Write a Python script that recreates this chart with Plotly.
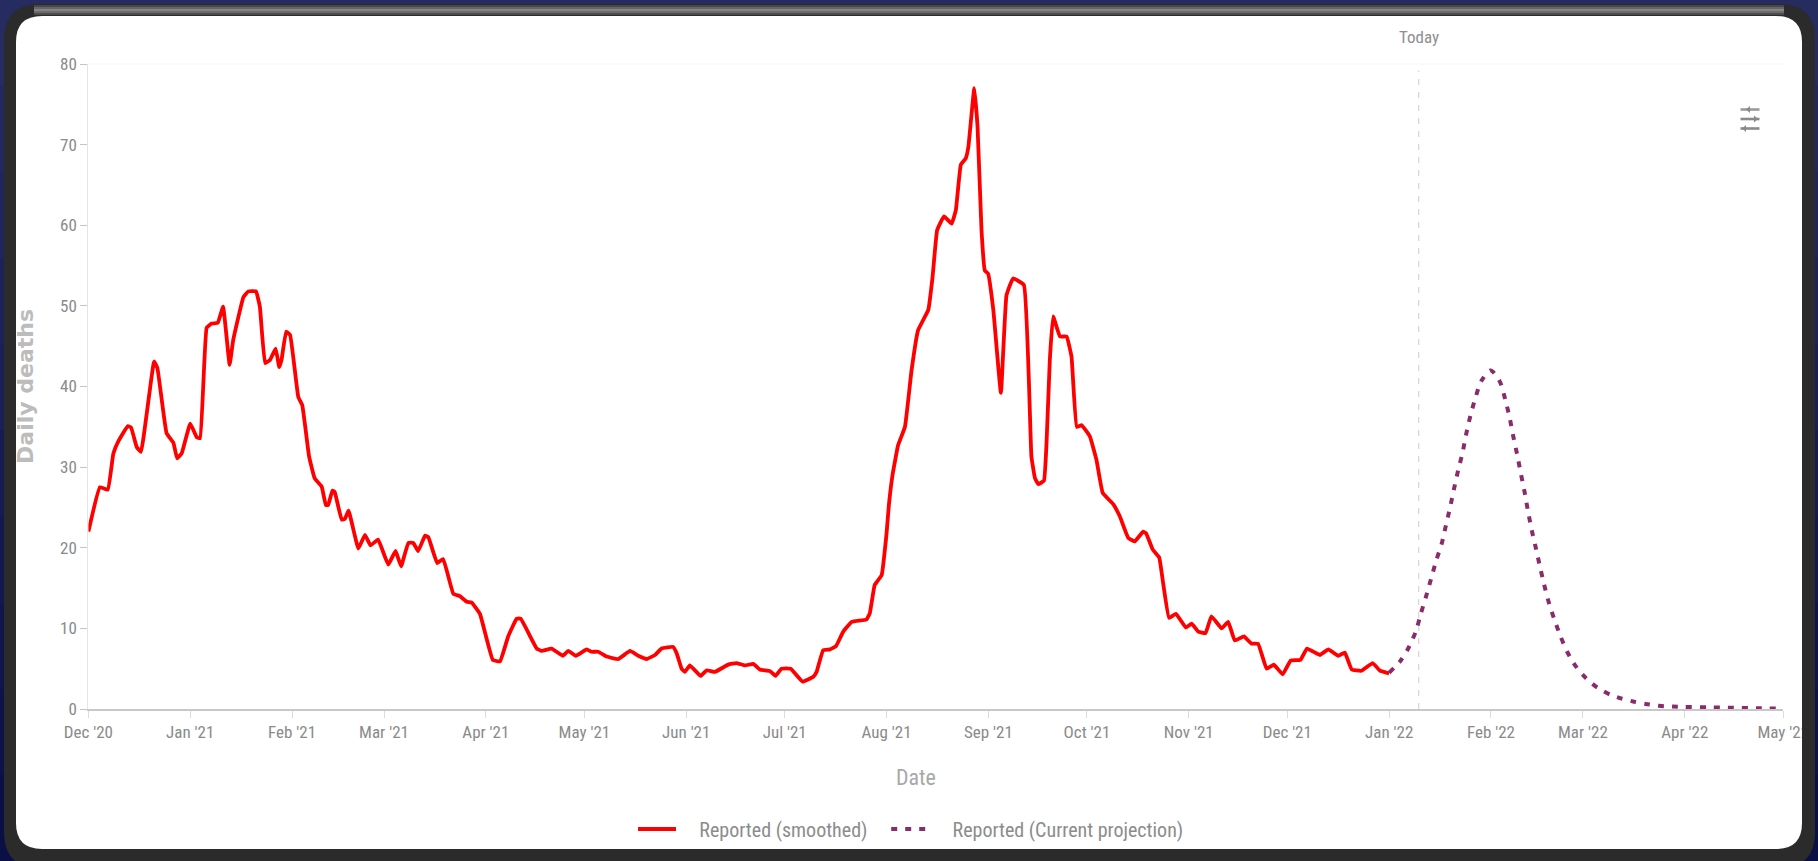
import pandas as pd
import plotly.graph_objects as go

W, H = 1818, 861
START = pd.Timestamp("2020-12-01")

# days after 1 Dec 2020
reported_days = [0,3.5,5.9,7.6,9.1,12,13,14.7,16,20,21,23.8,25.9,27,28.4,31,33,34,36,37.5,39.4,41,43,44.1,47.2,48.7,51,52.2,53.8,55.3,57,58.1,58.8,60.2,61.4,63.9,65.1,67.2,68.9,71,72.3,73,74.3,75,77.1,78.1,79.2,82.2,84.2,85.9,88.2,91.3,93.5,95.2,97.4,98.9,100.4,102.5,103.5,106.2,108,111.1,113.1,115.2,116.7,119.2,123.1,125.3,127.8,130.4,131.6,136.5,138,141,144.4,146.1,148.4,151.7,153.2,155.2,157.8,161.3,164.9,167.4,170,172.5,174.5,178,179.1,180.6,181.6,183.1,186.4,188.2,190.7,194.8,197.3,199.9,202.4,204.4,207.5,209.2,211,213.8,217.4,220.7,221.7,223.7,225.8,227.6,229.8,232.4,236.9,237.9,239.4,241.5,243,243.7,244.8,246.5,248.6,250.6,252.6,255.7,257,258.4,260.5,262.8,264.1,265.6,267.1,267.9,269.7,270.7,271.9,272.9,273.9,275.5,277.8,279.5,281.5,284.8,287.1,288.2,289.2,290.9,291.7,292.7,293.7,295.8,297.8,299.3,300.9,302.4,304.9,306.9,308.8,312,314,316.6,318.6,321.1,322,324,326,327.2,329,331.1,334.1,335.9,337.9,340.1,341.9,345,347,349,351.8,354.1,356.1,358.7,360.9,363.6,366,369,371,374.9,377.5,380.5,382.5,384.6,387.6,391,393.2,396]
reported_values = [22.0,27.5,27.2,31.7,33.2,35.1,34.9,32.5,31.9,43.1,42.3,34.2,33.0,31.1,31.7,35.4,33.7,33.6,47.3,47.8,47.9,49.9,42.7,45.8,51.1,51.8,51.8,49.9,42.9,43.3,44.7,42.4,43.3,46.8,46.4,38.7,37.7,31.3,28.6,27.6,25.3,25.3,27.1,26.9,23.5,23.6,24.6,19.9,21.6,20.3,21.0,17.9,19.6,17.7,20.6,20.6,19.6,21.5,21.3,18.1,18.6,14.3,14.0,13.3,13.2,11.8,6.1,5.9,9.0,11.2,11.2,7.5,7.2,7.5,6.6,7.2,6.6,7.4,7.1,7.1,6.5,6.2,7.2,6.6,6.2,6.7,7.5,7.7,6.9,5.0,4.6,5.4,4.1,4.8,4.6,5.5,5.7,5.4,5.6,4.9,4.7,4.1,5.0,5.0,3.4,4.0,4.6,7.3,7.4,7.8,9.6,10.8,11.1,11.9,15.4,16.6,21.8,25.3,29.0,32.7,35.0,42.0,47.0,49.5,53.6,59.4,61.1,60.2,61.9,67.5,68.3,69.7,77.0,72.2,59.4,54.4,54.0,49.5,39.2,51.3,53.4,52.6,31.3,28.6,27.9,28.3,33.0,43.3,48.7,46.2,46.2,43.7,35.0,35.2,33.8,30.9,26.8,25.4,23.9,21.2,20.8,22.0,21.8,19.8,18.8,15.6,11.3,11.8,10.1,10.6,9.6,9.4,11.5,10.0,10.8,8.5,9.0,8.1,8.1,5.0,5.5,4.3,6.0,6.1,7.5,6.7,7.4,6.6,7.0,4.9,4.75,5.7,4.75,4.4]

projection_days = [396,399.3,401.8,404.1,405.7,407.2,408.8,410.4,412,413.3,414.5,415.7,417,418.3,419.4,420.7,422.2,424.1,426.9,429.7,431.4,432.7,433.8,435,436.1,437.2,438.2,439.4,440.7,441.9,443.2,444.7,446.4,448.2,450.2,452.9,456,459.4,463.2,466.7,470.6,474.6,478.2,482.3,486,493.6,500.7,507.9,516]
projection_values = [4.5,5.9,7.5,9.6,11.9,13.9,16.2,18.5,20.5,22.8,24.9,27.2,29.6,31.7,34.0,36.3,38.5,40.7,42.0,40.6,38.3,36.1,33.8,31.5,29.2,27.0,24.7,22.2,19.9,17.7,15.4,13.1,11.0,9.0,7.1,5.25,3.8,2.65,1.8,1.3,0.9,0.6,0.4,0.3,0.25,0.2,0.15,0.1,0.05]

tick_dates = ["2020-12-01","2021-01-01","2021-02-01","2021-03-01","2021-04-01","2021-05-01","2021-06-01","2021-07-01","2021-08-01","2021-09-01","2021-10-01","2021-11-01","2021-12-01","2022-01-01","2022-02-01","2022-03-01","2022-04-01","2022-05-01"]
tick_labels = ["Dec '20","Jan '21","Feb '21","Mar '21","Apr '21","May '21","Jun '21","Jul '21","Aug '21","Sep '21","Oct '21","Nov '21","Dec '21","Jan '22","Feb '22","Mar '22","Apr '22","May '22"]
y_ticks = [0,10,20,30,40,50,60,70,80]
today_date = "2022-01-10"


def to_dates(days):
    return [(START + pd.Timedelta(days=d)).strftime("%Y-%m-%d %H:%M") for d in days]


def px(x):
    return x / W


def py(y):
    return 1 - y / H


def rrect(x0, y0, x1, y1, r):
    pts = (
        f"M {px(x0+r)} {py(y0)} L {px(x1-r)} {py(y0)} Q {px(x1)} {py(y0)} {px(x1)} {py(y0+r)} "
        f"L {px(x1)} {py(y1-r)} Q {px(x1)} {py(y1)} {px(x1-r)} {py(y1)} "
        f"L {px(x0+r)} {py(y1)} Q {px(x0)} {py(y1)} {px(x0)} {py(y1-r)} "
        f"L {px(x0)} {py(y0+r)} Q {px(x0)} {py(y0)} {px(x0+r)} {py(y0)} Z"
    )
    return pts


shapes = []
# background bands (navy, darker to the bottom)
top, bot = (38, 44, 96), (10, 16, 70)
bands = 10
for i in range(bands):
    t = i / (bands - 1)
    c = tuple(round(top[k] + (bot[k] - top[k]) * t) for k in range(3))
    shapes.append(dict(type="rect", xref="paper", yref="paper", x0=0, x1=1,
                       y0=py(H * (i + 1) / bands), y1=py(H * i / bands),
                       fillcolor=f"rgb{c}", line_width=0, layer="below"))
# bezel
shapes.append(dict(type="path", xref="paper", yref="paper", path=rrect(4, 4, 1815, 868, 36),
                   fillcolor="#2b2b2b", line_width=0, layer="below"))
# bezel highlight on top edge
for yy, col in [(6, "#484848"), (8, "#666666"), (10, "#858585"), (12, "#6c6c6c"), (14, "#4c4c4c")]:
    shapes.append(dict(type="line", xref="paper", yref="paper", x0=px(34), x1=px(1784),
                       y0=py(yy), y1=py(yy), line=dict(color=col, width=2), layer="below"))
# white panel
shapes.append(dict(type="path", xref="paper", yref="paper", path=rrect(16, 16, 1802, 849, 26),
                   fillcolor="#ffffff", line_width=0, layer="below"))
# faint top rule of the plot
shapes.append(dict(type="line", xref="paper", yref="paper", x0=px(88), x1=px(1783),
                   y0=py(64), y1=py(64), line=dict(color="#f6f6f6", width=1), layer="below"))
# today marker
shapes.append(dict(type="line", xref="x", yref="y", x0=today_date, x1=today_date, y0=0, y1=79.2,
                   line=dict(color="#d4d4d4", width=1.2, dash="6px,7px"), layer="below"))
# settings icon
for yy, col in [(109.5, "#9a9a9a"), (119, "#8a8a8a"), (128.5, "#8a8a8a")]:
    shapes.append(dict(type="line", xref="paper", yref="paper", x0=px(1740.5), x1=px(1759.5),
                       y0=py(yy), y1=py(yy), line=dict(color=col, width=2.6), layer="above"))
for ax, ay, dirn in [(1750, 109.5, -1), (1754, 119, 1), (1746, 128.5, -1)]:
    shapes.append(dict(type="path", xref="paper", yref="paper",
                       path=f"M {px(ax)} {py(ay-3.5)} L {px(ax+dirn*4)} {py(ay)} L {px(ax)} {py(ay+3.5)} Z",
                       fillcolor="#8a8a8a", line_width=0, layer="above"))
# right bezel covers the clipped last label
shapes.append(dict(type="rect", xref="paper", yref="paper", x0=px(1802), x1=px(1815),
                   y0=py(800), y1=py(700), fillcolor="#2b2b2b", line_width=0, layer="above"))

NARROW = "Roboto Condensed, Roboto, sans-serif"
NB = "\u00a0"

fig = go.Figure()
fig.add_trace(go.Scatter(x=to_dates(reported_days), y=reported_values, mode="lines",
                         name=NB * 4 + "Reported (smoothed)" + NB * 3,
                         line=dict(color="#ff0000", width=3.8, shape="spline", smoothing=0.3)))
fig.add_trace(go.Scatter(x=to_dates(projection_days), y=projection_values, mode="lines",
                         name=NB * 4 + "Reported (Current projection)",
                         line=dict(color="#8a2b6b", width=4, dash="6px,8px", shape="spline", smoothing=0.8)))

fig.update_layout(
    width=W, height=H, autosize=False,
    margin=dict(l=0, r=0, t=0, b=0, autoexpand=False),
    paper_bgcolor="#1a2058", plot_bgcolor="rgba(0,0,0,0)",
    shapes=shapes,
    showlegend=True,
    legend=dict(orientation="h", x=px(633), y=py(829), xanchor="left", yanchor="middle",
                font=dict(family=NARROW, size=20, color="#8c8c8c"), itemwidth=38,
                bgcolor="rgba(0,0,0,0)", traceorder="normal"),
    xaxis=dict(type="date", automargin=False, domain=[px(88.4), px(1783.3)],
               range=["2020-12-01", "2022-05-01"],
               tickmode="array", tickvals=tick_dates, ticktext=tick_labels, tickangle=0,
               showgrid=False, zeroline=False, showline=True, linecolor="#c8c8c8", linewidth=1.5,
               ticks="outside", ticklen=7, tickcolor="#dcdcdc", tickwidth=1,
               tickfont=dict(family=NARROW, size=17, color="#8a8a8a")),
    yaxis=dict(automargin=False, domain=[py(709), py(64)], range=[0, 80], tickmode="array",
               tickvals=y_ticks,
               showgrid=False, zeroline=False, showline=True, linecolor="#e4e4e4", linewidth=1.2,
               ticks="outside", ticklen=7, tickcolor="#c4c4c4", tickwidth=1,
               tickfont=dict(family=NARROW, size=17, color="#8a8a8a"),
               title=dict(text="<b>Daily deaths</b>", standoff=20,
                          font=dict(family="DejaVu Sans", size=22, color="#bcbcbc"))),
    annotations=[
        dict(text="Today", xref="paper", yref="paper", x=px(1419), y=py(37), showarrow=False,
             xanchor="center", yanchor="middle",
             font=dict(family=NARROW, size=17, color="#8f8f8f")),
        dict(text="Date", xref="paper", yref="paper", x=px(916), y=py(777), showarrow=False,
             xanchor="center", yanchor="middle",
             font=dict(family=NARROW, size=22, color="#a8a8a8")),
    ],
)

fig.write_html("out.html", config={"displayModeBar": False},
               post_script="document.body.style.margin='0';")
